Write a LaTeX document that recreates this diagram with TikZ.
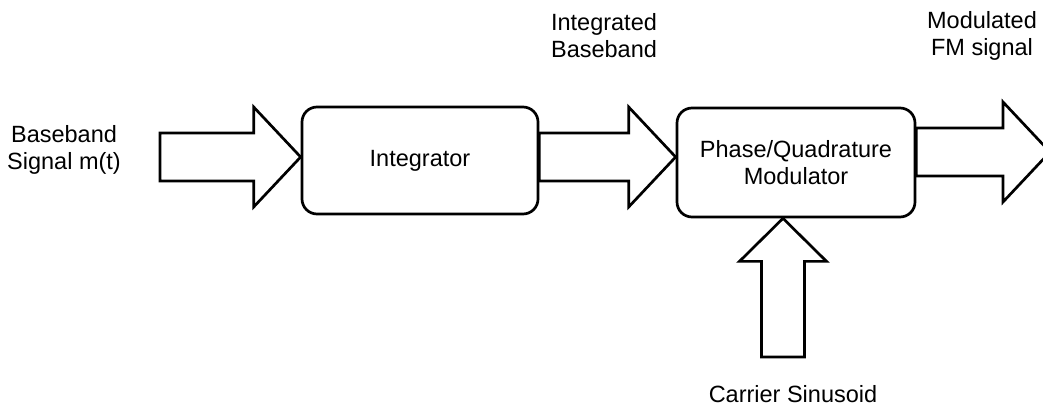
\documentclass[tikz,border=0pt]{standalone}
\usepackage{fontspec}
\setmainfont{Liberation Sans}
\usetikzlibrary{calc}
\tikzset{
  block/.style={draw, line width=2.7pt, rounded corners=15pt, align=center,
    inner sep=0pt},
  label/.style={align=center, inner sep=0pt},
  fatarrow/.style={draw, line width=2.7pt, line join=miter, fill=white},
}
% horizontal block arrow: #1 tail point, #2 tip point (same height)
\newcommand\rightfat[2]{%
  \draw[fatarrow] ($(#1)+(0,-24)$) -- ($(#2)+(-47,-24)$) -- ($(#2)+(-47,-50)$)
    -- (#2) -- ($(#2)+(-47,50)$) -- ($(#2)+(-47,24)$) -- ($(#1)+(0,24)$) -- cycle;}
\begin{document}
\begin{tikzpicture}[x=1pt, y=-1pt, font=\fontsize{23.5}{27}\selectfont]
  \useasboundingbox (0,0) rectangle (1043,407);

  % processing blocks
  \node[block, minimum width=236pt, minimum height=107pt] (int) at (420,160.5) {Integrator};
  \node[block, minimum width=238pt, minimum height=109pt] (mod) at (796,162.5)
    {Phase/Quadrature\\Modulator};

  % arrow end points
  \coordinate (a1) at (160,157);
  \coordinate (a1t) at (int.west |- a1);
  \coordinate (a2) at (int.east |- 0,157);
  \coordinate (a2t) at (mod.west |- a2);
  \coordinate (a3) at (mod.east |- 0,152);
  \coordinate (a3t) at (1050,152);
  \coordinate (c0) at (783,357);
  \coordinate (ct) at (c0 |- mod.south);

  % signal flow
  \rightfat{a1}{a1t}
  \rightfat{a2}{a2t}
  \rightfat{a3}{a3t}
  \draw[fatarrow] ($(c0)+(-21.5,0)$) -- ($(ct)+(-21.5,43)$) -- ($(ct)+(-43.5,43)$)
    -- (ct) -- ($(ct)+(43.5,43)$) -- ($(ct)+(21.5,43)$) -- ($(c0)+(21.5,0)$) -- cycle;

  % signal labels
  \node[label] (lin) at (64,150) {Baseband\\Signal m(t)};
  \node[label] (lint) at (604,36) {Integrated\\Baseband};
  \node[label] (lout) at (982,36) {Modulated\\FM signal};
  \node[label] (lcar) at (793,394) {Carrier Sinusoid};
\end{tikzpicture}
\end{document}
